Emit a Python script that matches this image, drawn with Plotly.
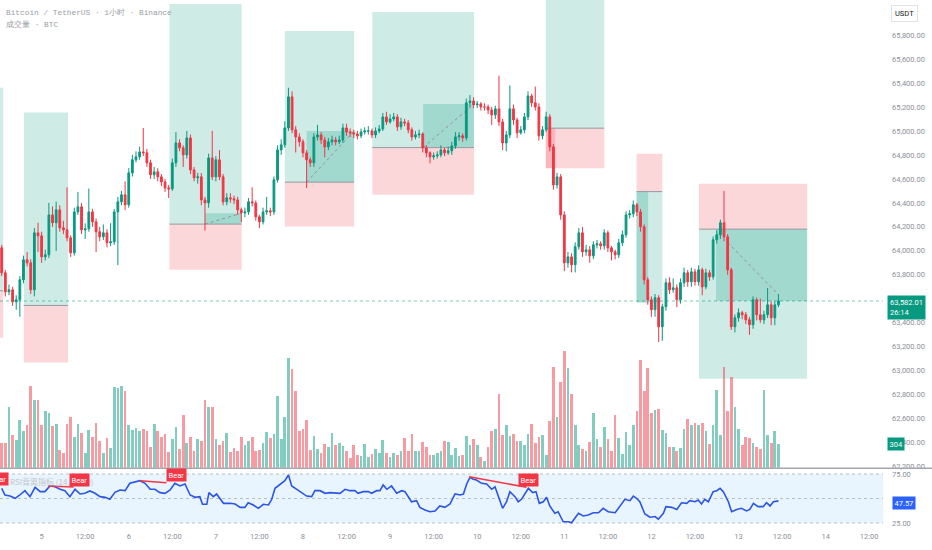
import plotly.graph_objects as go

# BTCUSDT 1h candles, first candle = day 4 13:00 (index = hours from there)
opens = [64025, 63817, 63659, 63675, 63575, 63592, 63759, 63925, 63900, 63675,
         64150, 64125, 63950, 63967, 64300, 64234, 64342, 64192, 64175, 64109,
         63984, 64325, 64367, 64175, 64184, 64325, 64242, 64159, 64117, 64150,
         64067, 64075, 64325, 64409, 64467, 64384, 64650, 64759, 64784, 64825,
         64817, 64734, 64634, 64659, 64617, 64575, 64525, 64517, 64734, 64900,
         64859, 64800, 64942, 64675, 64609, 64617, 64425, 64400, 64775, 64617,
         64759, 64617, 64409, 64442, 64434, 64425, 64342, 64317, 64325, 64409,
         64400, 64284, 64242, 64325, 64334, 64325, 64592, 64842, 64884, 65025,
         65284, 65009, 64950, 64909, 64817, 64759, 64734, 64950, 64967, 64925,
         64867, 64909, 64925, 64909, 64925, 65025, 64992, 64984, 64975, 64959,
         64992, 65000, 65000, 64967, 65000, 65017, 65117, 65075, 65100, 65117,
         65034, 65075, 65067, 65009, 64950, 64967, 64975, 64859, 64817, 64784,
         64792, 64800, 64842, 64817, 64834, 64875, 64950, 64959, 64942, 65234,
         65250, 65217, 65225, 65200, 65200, 65175, 65134, 65184, 65075, 64900,
         64967, 65184, 65092, 64984, 65009, 65117, 65292, 65234, 65200, 64959,
         65009, 65117, 64867, 64550, 64617, 64300, 63900, 63950, 63884, 64034,
         64150, 63992, 64009, 63959, 64050, 64059, 64042, 64150, 64025, 63992,
         63967, 64067, 64134, 64300, 64309, 64384, 64325, 64200, 63759, 63592,
         63509, 63609, 63367, 63534, 63734, 63675, 63692, 63592, 63734, 63817,
         63742, 63825, 63742, 63842, 63700, 63817, 63784, 64092, 64134, 64234,
         64117, 63842, 63367, 63442, 63484, 63467, 63425, 63384, 63592, 63467,
         63425, 63467, 63550, 63442, 63550]
closes = [63817, 63659, 63675, 63575, 63592, 63759, 63925, 63900, 63675, 64150,
          64125, 63950, 63967, 64300, 64234, 64342, 64192, 64175, 64109, 63984,
          64325, 64367, 64175, 64184, 64325, 64242, 64159, 64117, 64150, 64067,
          64075, 64325, 64409, 64467, 64384, 64650, 64759, 64784, 64825, 64817,
          64734, 64634, 64659, 64617, 64575, 64525, 64517, 64734, 64900, 64859,
          64800, 64942, 64675, 64609, 64617, 64425, 64400, 64775, 64617, 64759,
          64617, 64409, 64442, 64434, 64425, 64342, 64317, 64325, 64409, 64400,
          64284, 64242, 64325, 64334, 64325, 64592, 64842, 64884, 65025, 65284,
          65009, 64950, 64909, 64817, 64759, 64734, 64950, 64967, 64925, 64867,
          64909, 64925, 64909, 64925, 65025, 64992, 64984, 64975, 64959, 64992,
          65000, 65000, 64967, 65000, 65017, 65117, 65075, 65100, 65117, 65034,
          65075, 65067, 65009, 64950, 64967, 64975, 64859, 64817, 64784, 64792,
          64800, 64842, 64817, 64834, 64875, 64950, 64959, 64942, 65234, 65250,
          65217, 65225, 65200, 65200, 65175, 65134, 65184, 65075, 64900, 64967,
          65184, 65092, 64984, 65009, 65117, 65292, 65234, 65200, 64959, 65009,
          65117, 64867, 64550, 64617, 64300, 63900, 63950, 63884, 64034, 64150,
          63992, 64009, 63959, 64050, 64059, 64042, 64150, 64025, 63992, 63967,
          64067, 64134, 64300, 64309, 64384, 64325, 64200, 63759, 63592, 63509,
          63609, 63367, 63534, 63734, 63675, 63692, 63592, 63734, 63817, 63742,
          63825, 63742, 63842, 63700, 63817, 63784, 64092, 64134, 64234, 64117,
          63842, 63367, 63442, 63484, 63467, 63425, 63384, 63592, 63467, 63425,
          63467, 63550, 63442, 63550, 63582.01]
highs = [64050, 63840, 63720, 63700, 63630, 63790, 63960, 63990, 63930, 64190,
         64234, 64160, 64010, 64400, 64370, 64410, 64380, 64250, 64530, 64130,
         64360, 64490, 64400, 64230, 64520, 64350, 64270, 64200, 64220, 64180,
         64230, 64350, 64450, 64500, 64580, 64690, 64800, 64830, 64870, 65025,
         64850, 64760, 64700, 64690, 64640, 64600, 64550, 64770, 64990, 64930,
         64880, 65000, 64970, 64700, 64650, 64650, 64450, 64810, 65000, 64790,
         64840, 64640, 64480, 64480, 64460, 64450, 64360, 64360, 64440, 64530,
         64420, 64300, 64360, 64450, 64360, 64620, 64880, 64930, 65080, 65360,
         65330, 65040, 64980, 64930, 64840, 64780, 64980, 65050, 64990, 64950,
         64940, 64960, 64950, 64960, 65060, 65060, 65020, 65010, 65000, 65020,
         65030, 65040, 65020, 65030, 65050, 65150, 65160, 65140, 65150, 65140,
         65110, 65100, 65090, 65030, 65000, 65010, 64990, 64880, 64830, 64820,
         64830, 64880, 64860, 64870, 64910, 64990, 64990, 64980, 65270, 65300,
         65280, 65250, 65240, 65230, 65220, 65200, 65210, 65460, 65100, 65000,
         65380, 65220, 65110, 65040, 65150, 65330, 65310, 65370, 65230, 65040,
         65160, 65140, 64890, 64650, 64640, 64330, 63990, 63980, 64070, 64190,
         64200, 64050, 64040, 64080, 64090, 64080, 64180, 64170, 64040, 64010,
         64100, 64170, 64330, 64340, 64420, 64400, 64350, 64220, 63780, 63620,
         63640, 63630, 63560, 63770, 63780, 63770, 63720, 63770, 63860, 63840,
         63860, 63850, 63880, 63860, 63850, 63840, 64120, 64170, 64260, 64500,
         64140, 63860, 63470, 63520, 63500, 63490, 63450, 63620, 63610, 63600,
         63500, 63690, 63580, 63580, 63640]
lows = [63790, 63620, 63630, 63540, 63509, 63450, 63730, 63870, 63640, 63620,
        63990, 63900, 63920, 63940, 64200, 64000, 64160, 64140, 64080, 63950,
        63960, 64300, 64140, 64100, 64160, 64200, 63990, 64080, 64090, 64030,
        64040, 64050, 63880, 64380, 64340, 64360, 64620, 64740, 64760, 64790,
        64700, 64600, 64600, 64580, 64540, 64490, 64440, 64500, 64700, 64830,
        64700, 64770, 64640, 64580, 64560, 64380, 64170, 64360, 64590, 64580,
        64590, 64380, 64380, 64400, 64390, 64300, 64240, 64280, 64300, 64370,
        64250, 64190, 64220, 64300, 64290, 64300, 64570, 64800, 64860, 65000,
        64980, 64820, 64870, 64780, 64525, 64700, 64700, 64920, 64890, 64780,
        64840, 64880, 64880, 64890, 64900, 64960, 64950, 64940, 64930, 64940,
        64970, 64970, 64940, 64940, 64980, 65000, 65050, 65060, 65080, 65000,
        65010, 65040, 64980, 64920, 64930, 64940, 64820, 64780, 64730, 64760,
        64770, 64780, 64790, 64800, 64800, 64850, 64920, 64910, 64920, 65200,
        65190, 65190, 65170, 65170, 65140, 65050, 65100, 65040, 64840, 64830,
        64940, 65050, 64940, 64970, 64980, 65090, 65200, 65170, 64920, 64930,
        64990, 64830, 64510, 64520, 64260, 63830, 63860, 63820, 63820, 64010,
        63950, 63960, 63900, 63930, 64020, 64010, 64010, 63990, 63920, 63930,
        63940, 64040, 64110, 64270, 64280, 64290, 64160, 63720, 63550, 63450,
        63450, 63240, 63250, 63500, 63640, 63650, 63530, 63560, 63700, 63700,
        63700, 63710, 63710, 63630, 63680, 63750, 63760, 64060, 64100, 64080,
        63800, 63340, 63320, 63410, 63430, 63390, 63300, 63350, 63420, 63400,
        63390, 63440, 63380, 63380, 63530]
volumes = [309, 317, 774, 410, 351, 605, 461, 546, 1036, 867,
           867, 546, 715, 690, 529, 554, 224, 182, 550, 647,
           393, 554, 444, 182, 478, 393, 571, 334, 182, 381,
           254, 1028, 1011, 1045, 977, 537, 478, 503, 470, 495,
           461, 266, 558, 470, 393, 427, 199, 360, 512, 233,
           673, 317, 393, 207, 368, 334, 859, 766, 766, 368,
           292, 343, 444, 199, 250, 207, 393, 283, 343, 385,
           207, 224, 317, 453, 376, 427, 909, 360, 647, 1400,
           1256, 973, 461, 486, 605, 224, 402, 233, 190, 300,
           266, 436, 283, 309, 275, 207, 123, 292, 165, 148,
           300, 140, 173, 233, 190, 351, 190, 131, 182, 157,
           207, 376, 216, 427, 207, 216, 326, 258, 157, 157,
           190, 216, 343, 326, 157, 250, 148, 165, 402, 283,
           360, 283, 131, 89, 258, 470, 486, 935, 419, 546,
           402, 427, 334, 334, 292, 427, 554, 309, 385, 419,
           157, 588, 1282, 647, 1087, 1485, 1273, 935, 537, 283,
           241, 216, 326, 690, 360, 258, 520, 360, 216, 673,
           376, 173, 453, 283, 537, 715, 1375, 977, 1273, 700,
           732, 749, 478, 444, 258, 258, 207, 250, 495, 613,
           537, 563, 537, 563, 461, 300, 546, 986, 410, 1282,
           723, 1155, 766, 486, 292, 393, 376, 309, 266, 241,
           986, 410, 317, 461, 304]

# RSI samples (candle index, value)
rsi_idx = [0, 0.9, 2.3, 3.7, 5.0, 6.4, 7.8, 9.2, 10.6, 11.9, 13.3, 14.7, 16.1, 17.4,
           18.8, 20.2, 21.6, 22.9, 24.3, 25.7, 27.1, 28.5, 29.8, 31.2, 32.6, 34.0,
           35.3, 36.7, 38.1, 39.5, 40.9, 42.2, 43.6, 45.0, 46.4, 47.7, 49.1, 50.5,
           51.9, 53.3, 54.6, 55.3, 56.5, 57.1, 58.3, 59.2, 61.1, 62.9, 64.3, 65.7,
           67.0, 67.9, 69.3, 70.7, 72.1, 73.5, 74.4, 75.3, 76.7, 78.0, 79.0, 79.9,
           81.3, 82.6, 84.0, 85.4, 86.3, 87.7, 89.1, 90.4, 91.8, 93.2, 94.6, 95.9,
           97.3, 98.2, 99.6, 101.0, 101.9, 103.3, 104.2, 105.1, 106.1, 107.4, 108.8,
           110.2, 111.1, 112.9, 114.3, 115.2, 116.6, 118.0, 119.4, 120.7, 122.1,
           123.5, 124.9, 126.3, 127.2, 128.1, 129.0, 129.9, 130.8, 132.2, 133.6,
           135.0, 135.9, 136.8, 138.0, 139.1, 140.0, 141.4, 142.3, 143.2, 145.1,
           146.3, 147.2, 148.1, 149.2, 150.1, 151.0, 152.4, 153.3, 154.7, 156.1,
           157.0, 158.9, 160.2, 161.6, 163.0, 164.4, 165.7, 167.1, 169.0, 170.3,
           171.7, 173.1, 174.0, 174.9, 175.8, 177.2, 178.6, 180.0, 180.9, 182.3,
           183.0, 184.6, 186.0, 187.3, 188.7, 189.6, 191.0, 191.9, 192.8, 193.7,
           194.7, 196.0, 197.0, 197.9, 198.8, 200.2, 201.1, 202.5, 203.8, 205.2,
           206.1, 207.1, 208.4, 209.8, 210.7, 211.7, 212.6, 214.0]
rsi_val = [60.4, 53.6, 52.5, 50.2, 53.6, 58.0, 51.9, 61.4, 57.0, 57.0, 62.8, 62.0, 59.4, 58.0,
           51.9, 59.4, 54.6, 55.3, 57.7, 55.3, 51.9, 51.2, 49.2, 56.3, 58.7, 58.0,
           65.5, 67.2, 68.2, 65.5, 59.4, 59.4, 56.0, 55.3, 58.7, 65.5, 62.8, 64.8,
           53.6, 51.2, 51.9, 44.1, 44.1, 56.0, 51.9, 54.6, 45.1, 45.1, 44.4, 41.0,
           41.0, 45.7, 43.4, 40.0, 44.1, 43.4, 49.2, 60.4, 64.8, 68.2, 74.0, 62.8,
           59.4, 56.0, 52.5, 51.9, 58.0, 58.0, 55.3, 56.0, 56.0, 55.3, 59.4, 58.0,
           58.0, 55.3, 57.0, 57.0, 55.3, 58.0, 58.0, 63.8, 59.4, 62.8, 55.3,
           58.0, 57.0, 46.7, 47.8, 41.0, 38.3, 36.5, 37.3, 42.4, 41.0,
           44.4, 54.6, 53.6, 54.6, 64.8, 71.6, 69.6, 68.9, 65.5, 64.8,
           59.4, 62.0, 51.9, 40.0, 46.7, 57.0, 51.9, 46.7, 49.2, 60.4,
           56.0, 57.0, 45.1, 46.7, 51.2, 42.4, 34.9, 36.5, 26.3, 26.3,
           25.2, 34.9, 32.2, 33.2, 35.5, 35.5, 40.0, 36.5, 35.5, 41.7,
           49.2, 47.8, 52.5, 50.2, 46.7, 34.2, 30.9, 31.6, 28.9, 34.9,
           41.7, 41.0, 38.9, 45.7, 45.1, 47.8, 46.7, 48.5, 44.4, 49.2,
           46.7, 57.0, 58.0, 60.4, 57.0, 46.7, 36.5, 38.9, 40.0, 37.3,
           38.9, 45.1, 41.7, 41.7, 45.7, 42.4, 46.7, 47.57]

# bearish divergence lines on RSI
div_x0 = [12.8, 38.1, 128.8]
div_y0 = [62.8, 68.2, 72.3]
div_x1 = [19.8, 45.4, 144.6]
div_y1 = [61.7, 66.1, 61.4]
bear_x = [2.0, 21.3, 48.2, 145.1]
bear_y = [62.5, 61.7, 66.8, 61.7]

# long / short position tools
pos_start = [-14, 6.1, 46.2, 78.0, 102.1, 149.9, 174.9, 192.1]
pos_end = [0.4, 18.3, 66.1, 97.1, 130.1, 166.0, 182.0, 221.9]
pos_entry = [63667, 63545, 64223, 64573, 64861, 65023, 64494, 64181]
pos_target = [65359, 65153, 66059, 65834, 65992, 66300, 63570, 62934]
pos_stop = [63275, 63070, 63842, 64203, 64467, 64689, 64809, 64559]
prog_start = [56.0, 84.0, 116.1, 149.9, 174.9, 196.8]
prog_end = [66.1, 97.1, 130.1, 152.5, 178.1, 221.9]
prog_from = [64223, 64573, 64861, 65023, 64494, 64181]
prog_to = [64314, 65000, 65225, 64689, 63570, 63582]
prog_win = [True, True, True, False, True, True]
dash_x0 = [56.0, 84.0, 116.1, 200.0]
dash_y0 = [64223, 64573, 64861, 64070]
dash_x1 = [66.1, 97.1, 130.1, 214.0]
dash_y1 = [64314, 65000, 65225, 63634]

price_ticks = [62200, 62400, 62600, 62800, 63000, 63200, 63400, 63800, 64000,
               64200, 64400, 64600, 64800, 65000, 65200, 65400, 65600, 65800]
tick_labels = ["5", "12:00", "6", "12:00", "7", "12:00", "8", "12:00", "9", "12:00",
               "10", "12:00", "11", "12:00", "12", "12:00", "13", "12:00", "14", "12:00"]
first_day_idx = 11

UP = "#089981"
DOWN = "#F23645"
AXIS_TXT = "#8c8f98"

x = list(range(len(closes)))
vol_colors = ["rgba(8,153,129,0.5)" if c >= o else "rgba(242,54,69,0.5)"
              for o, c in zip(opens, closes)]

fig = go.Figure()
fig.add_trace(go.Candlestick(
    x=x, open=opens, high=highs, low=lows, close=closes,
    increasing=dict(line=dict(color=UP, width=1), fillcolor=UP),
    decreasing=dict(line=dict(color=DOWN, width=1), fillcolor=DOWN),
    xaxis="x", yaxis="y", showlegend=False, hoverinfo="skip"))
fig.add_trace(go.Bar(x=x, y=volumes, marker_color=vol_colors, marker_line_width=0,
                     width=0.75, xaxis="x", yaxis="y2", showlegend=False,
                     hoverinfo="skip"))
fig.add_trace(go.Scatter(x=rsi_idx, y=rsi_val, mode="lines",
                         line=dict(color="#2a55e5", width=1.6),
                         xaxis="x", yaxis="y3", showlegend=False, hoverinfo="skip"))
for i in range(len(div_x0)):
    fig.add_trace(go.Scatter(x=[div_x0[i], div_x1[i]], y=[div_y0[i], div_y1[i]],
                             mode="lines", line=dict(color=DOWN, width=1.5),
                             xaxis="x", yaxis="y3", showlegend=False, hoverinfo="skip"))

shapes = []
for i in range(len(pos_start)):
    shapes.append(dict(type="rect", xref="x", yref="y", layer="below",
                       x0=pos_start[i], x1=pos_end[i], y0=pos_entry[i], y1=pos_target[i],
                       fillcolor="rgba(8,153,129,0.2)", line_width=0))
    shapes.append(dict(type="rect", xref="x", yref="y", layer="below",
                       x0=pos_start[i], x1=pos_end[i], y0=pos_entry[i], y1=pos_stop[i],
                       fillcolor="rgba(242,54,69,0.2)", line_width=0))
for i in range(len(prog_start)):
    shapes.append(dict(type="rect", xref="x", yref="y", layer="below",
                       x0=prog_start[i], x1=prog_end[i], y0=prog_from[i], y1=prog_to[i],
                       fillcolor="rgba(8,153,129,0.22)" if prog_win[i] else "rgba(242,54,69,0.2)",
                       line_width=0))
for i in range(len(pos_start)):
    shapes.append(dict(type="line", xref="x", yref="y", layer="below",
                       x0=pos_start[i], x1=pos_end[i], y0=pos_entry[i], y1=pos_entry[i],
                       line=dict(color="#9598a1", width=1)))
for i in range(len(dash_x0)):
    shapes.append(dict(type="line", xref="x", yref="y", layer="below",
                       x0=dash_x0[i], x1=dash_x1[i], y0=dash_y0[i], y1=dash_y1[i],
                       line=dict(color="#8f929b", width=1, dash="dot")))
# last price line
shapes.append(dict(type="line", xref="paper", yref="y", x0=0, x1=1,
                   y0=closes[-1], y1=closes[-1],
                   line=dict(color="rgba(8,153,129,0.55)", width=1, dash="dot")))
# RSI band and levels
shapes.append(dict(type="rect", xref="paper", yref="y3", x0=0, x1=1, y0=25, y1=75,
                   fillcolor="rgba(33,150,243,0.1)", line_width=0, layer="below"))
for lvl in [25, 50, 75]:
    shapes.append(dict(type="line", xref="paper", yref="y3", x0=0, x1=1, y0=lvl, y1=lvl,
                       line=dict(color="rgba(120,123,134,0.45)", width=1, dash="dot"),
                       layer="below"))
# pane separator
shapes.append(dict(type="line", xref="paper", yref="paper", x0=0, x1=1.06,
                   y0=0.1165, y1=0.1165, line=dict(color="#a3a6af", width=1.5)))

annotations = [
    dict(text="Bitcoin / TetherUS · 1小时 · Binance", xref="paper", yref="paper",
         x=0.005, y=0.977, xanchor="left", yanchor="middle", showarrow=False,
         font=dict(family="Liberation Mono", size=7.8, color="#9a9da6")),
    dict(text="成交量 · BTC", xref="paper", yref="paper",
         x=0.005, y=0.953, xanchor="left", yanchor="middle", showarrow=False,
         font=dict(family="Liberation Mono", size=7.8, color="#9a9da6")),
    dict(text="RSI背离指标 (14, close)", xref="paper", yref="paper",
         x=0.009, y=0.092, xanchor="left", yanchor="middle", showarrow=False,
         font=dict(family="Noto Sans CJK SC", size=8, color="#c3c6cc")),
    dict(text="USDT", xref="paper", yref="paper", x=1.009, y=0.9745,
         xanchor="left", yanchor="middle", showarrow=False, bgcolor="white",
         bordercolor="#e0e3eb", borderwidth=1, borderpad=3,
         font=dict(family="Roboto", size=7.5, color="#131722")),
    dict(text=f"{closes[-1]:,.2f}<br>26:14", xref="paper", yref="y", x=1.005, y=closes[-1],
         yshift=6, xanchor="left", yanchor="top", align="left", showarrow=False,
         bgcolor=UP, borderpad=2, font=dict(family="Roboto", size=7.5, color="white")),
    dict(text=f"{volumes[-1]}", xref="paper", yref="y2", x=1.005, y=volumes[-1],
         xanchor="left", yanchor="middle", showarrow=False, bgcolor=UP, borderpad=1.5,
         font=dict(family="Roboto", size=7.5, color="white")),
    dict(text=f"{rsi_val[-1]:.2f}", xref="paper", yref="y3", x=1.01, y=rsi_val[-1],
         yshift=-2, xanchor="left", yanchor="middle", showarrow=False, bgcolor="#2962FF",
         borderpad=1.5, font=dict(family="Roboto", size=7.5, color="white")),
]
for bx, by in zip(bear_x, bear_y):
    annotations.append(dict(text="Bear", xref="x", yref="y3", x=bx, y=by,
                            xanchor="right" if bx < 5 else "center", yanchor="bottom",
                            showarrow=False, bgcolor=DOWN, borderpad=1.5,
                            font=dict(family="Roboto", size=7.5, color="white")))

fig.update_layout(
    width=932, height=550, margin=dict(l=0, r=49, t=0, b=20),
    paper_bgcolor="white", plot_bgcolor="white",
    font=dict(family="Roboto", size=7.5, color=AXIS_TXT),
    shapes=shapes, annotations=annotations, bargap=0,
    xaxis=dict(domain=[0, 1], anchor="y3", range=[-0.47, 242.8],
               tickvals=[first_day_idx + 12 * k for k in range(len(tick_labels))],
               ticktext=tick_labels, showgrid=False, zeroline=False, showline=False,
               ticks="", tickfont=dict(size=7.5, color=AXIS_TXT),
               rangeslider=dict(visible=False), fixedrange=True),
    yaxis=dict(domain=[0.1175, 1], range=[62191.7, 66091.7], side="right",
               tickvals=price_ticks, tickformat=",.2f",
               showgrid=False, zeroline=False, ticks="", ticklabelstandoff=8,
               tickfont=dict(size=7.5, color=AXIS_TXT)),
    yaxis2=dict(domain=[0.1175, 1], overlaying="y", range=[0, 5944], visible=False),
    yaxis3=dict(domain=[0, 0.1151], range=[17.9, 80.1], side="right",
                tickvals=[25, 75], tickformat=".2f", showgrid=False, zeroline=False,
                ticks="", ticklabelstandoff=8, tickfont=dict(size=7.5, color=AXIS_TXT)),
)

# page body has a default 8px margin; remove it so the figure fills the window
fig.write_html("out.html", config={"displayModeBar": False},
               post_script="document.body.style.margin='0';")
